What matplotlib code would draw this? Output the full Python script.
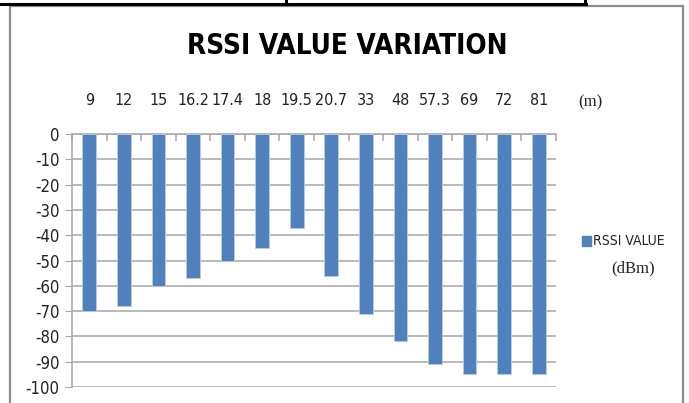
import numpy as np
import matplotlib
matplotlib.use('agg')
import matplotlib.pyplot as plt
from matplotlib.lines import Line2D
from matplotlib.patches import Rectangle

# Distance (m) and measured RSSI (dBm)
distances = ["9", "12", "15", "16.2", "17.4", "18", "19.5", "20.7",
             "33", "48", "57.3", "69", "72", "81"]
rssi = [-70, -68, -60, -57, -50, -45, -37, -56, -71, -82, -91, -95, -95, -95]
yticks = list(range(0, -101, -10))

narrow = ['DejaVu Sans']
serif = ['Liberation Serif', 'DejaVu Serif']
bar_color = '#4F81BD'
grid_color = '#A6A6A6'
text_color = '#222222'

W, H = 689, 403
fig = plt.figure(figsize=(W / 100, H / 100), dpi=100)


def fx(px):
    return px / W


def fy(py):
    return 1 - py / H


# page / table border bits at the top
fig.add_artist(Line2D([fx(0), fx(586)], [fy(4), fy(4)], color='k', lw=2.2))
for xv in (286, 585):
    fig.add_artist(Line2D([fx(xv), fx(xv)], [fy(0), fy(4)], color='k', lw=2.2))

# chart area border
fig.add_artist(Rectangle((fx(10), fy(420)), fx(673), fy(6) - fy(420),
                         fill=False, ec='#8C8C8C', lw=1.6))

ax = fig.add_axes([fx(72), fy(387), fx(556 - 72), fy(134) - fy(387)])
x = np.arange(len(distances))
ax.bar(x, rssi, width=0.4, color=bar_color, edgecolor='#B9CDE5', lw=0.6,
       zorder=3, label='RSSI VALUE')

ax.set_xlim(-0.5, len(distances) - 0.5)
ax.set_ylim(-100, 0)
ax.set_yticks(yticks)
ax.set_yticklabels([str(v) for v in yticks], family=narrow, fontsize=12,
                   fontstretch='condensed')
ax.grid(axis='y', color=grid_color, lw=1.1, zorder=0)

for s in ('right', 'bottom'):
    ax.spines[s].set_visible(False)
ax.spines['left'].set_color(grid_color)
ax.spines['top'].set_color(grid_color)
ax.spines['left'].set_linewidth(1.1)
ax.spines['top'].set_linewidth(1.1)

ax.tick_params(axis='y', length=5, color=grid_color, pad=4,
               labelcolor=text_color)
ax.set_xticks(x)
ax.set_xticklabels(distances, family=narrow, fontsize=11.5,
                   fontstretch='condensed')
ax.tick_params(axis='x', which='major', top=True, bottom=False, labeltop=True,
               labelbottom=False, length=0, pad=19, labelcolor=text_color)
ax.set_xticks(np.arange(len(distances) + 1) - 0.5, minor=True)
ax.tick_params(axis='x', which='minor', top=True, bottom=False, direction='in',
               length=5, color=grid_color, width=1.1)

fig.text(fx(578), fy(102), '(m)', family=serif, fontsize=12, va='center',
         color=text_color)

fig.text(fx(347), fy(46), 'RSSI VALUE VARIATION', family=narrow,
         fontsize=20, fontweight='bold', fontstretch='condensed',
         ha='center', va='center')

# legend
fig.add_artist(Rectangle((fx(582), fy(246)), fx(9), fy(236) - fy(246),
                         color=bar_color))
fig.text(fx(593), fy(241), 'RSSI VALUE', family=narrow, fontsize=10,
         fontstretch='condensed', va='center', color=text_color)
fig.text(fx(611), fy(268), '(dBm)', family=serif, fontsize=12,
         va='center', color=text_color)

fig.savefig('out.png', dpi=100, facecolor='w')
